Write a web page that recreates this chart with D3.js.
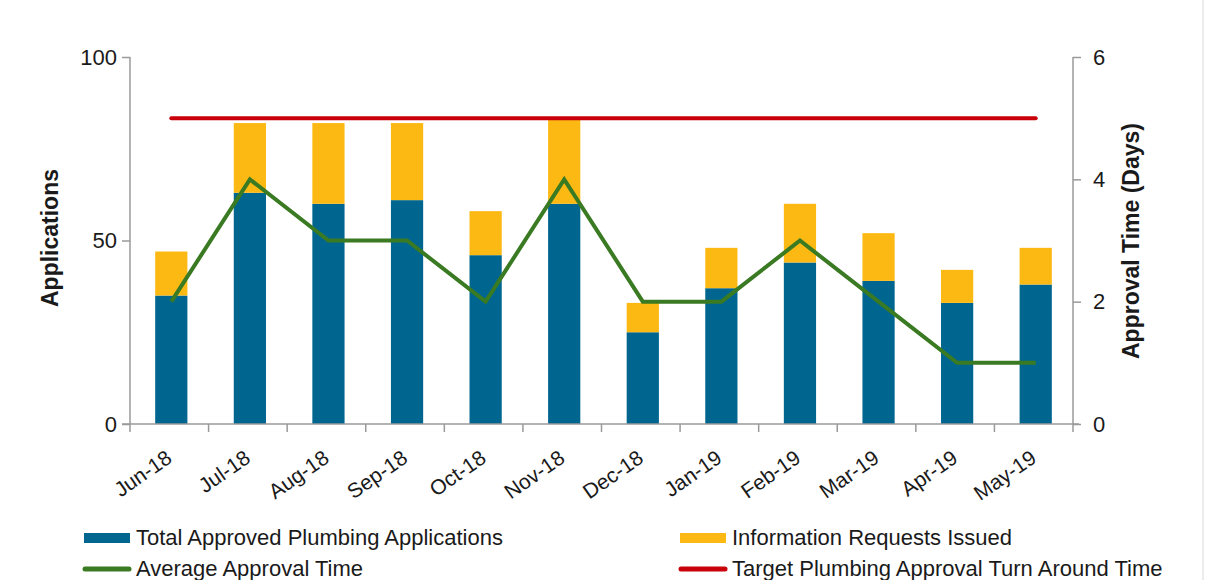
<!DOCTYPE html>
<html>
<head>
<meta charset="utf-8">
<script src="https://cdn.jsdelivr.net/npm/d3@7"></script>
<style>
  html, body { margin: 0; padding: 0; background: #fff; }
  svg { display: block; font-family: "Liberation Sans", Arial, sans-serif; }
</style>
</head>
<body>
<svg id="chart" width="1216" height="580"></svg>
<script>
const months = ["Jun-18","Jul-18","Aug-18","Sep-18","Oct-18","Nov-18","Dec-18","Jan-19","Feb-19","Mar-19","Apr-19","May-19"];
const approved = [35, 63, 60, 61, 46, 60, 25, 37, 44, 39, 33, 38];
const infoRequests = [12, 19, 22, 21, 12, 23, 8, 11, 16, 13, 9, 10];
const avgApprovalTime = [2, 4, 3, 3, 2, 4, 2, 2, 3, 2, 1, 1];
const targetTime = [5, 5, 5, 5, 5, 5, 5, 5, 5, 5, 5, 5];
const leftTicks = [0, 50, 100];
const rightTicks = [0, 2, 4, 6];

const C = { blue: "#006690", yellow: "#FDB913", green: "#3A7A22", red: "#C8000A", axis: "#9a9a9a", text: "#1a1a1a" };

const svg = d3.select("#chart");
const L = 130, R = 1073, T = 57, B = 424;

const x = d3.scaleBand().domain(months).range([L, R]).padding(0);
const yL = d3.scaleLinear().domain([0, 100]).range([B, T]);
const yR = d3.scaleLinear().domain([0, 6]).range([B, T]);
const barW = x.bandwidth() * 0.41;
const cx = m => x(m) + x.bandwidth() / 2 + 2;

// right border line
svg.append("line").attr("x1", 1203).attr("x2", 1203).attr("y1", 0).attr("y2", 580)
  .attr("stroke", "#e6e6e6").attr("stroke-width", 1.5);

// bars
const stackData = months.map((m, i) => ({ m, a: approved[i], r: infoRequests[i] }));
svg.append("g").selectAll("rect").data(stackData).join("rect")
  .attr("x", d => cx(d.m) - barW / 2).attr("width", barW)
  .attr("y", d => yL(d.a)).attr("height", d => yL(0) - yL(d.a))
  .attr("fill", C.blue);
svg.append("g").selectAll("rect").data(stackData).join("rect")
  .attr("x", d => cx(d.m) - barW / 2).attr("width", barW)
  .attr("y", d => yL(d.a + d.r)).attr("height", d => yL(d.a) - yL(d.a + d.r))
  .attr("fill", C.yellow);

// axes
const axL = svg.append("g").attr("transform", `translate(${L},0)`)
  .call(d3.axisLeft(yL).tickValues(leftTicks).tickSize(8).tickPadding(5).tickFormat(d3.format("d")));
const axR = svg.append("g").attr("transform", `translate(${R},0)`)
  .call(d3.axisRight(yR).tickValues(rightTicks).tickSize(8).tickPadding(12).tickFormat(d3.format("d")));
const axB = svg.append("g").attr("transform", `translate(0,${B})`)
  .call(d3.axisBottom(x).tickValues(months).tickSize(0).tickFormat(""));
[axL, axR, axB].forEach(a => {
  a.selectAll(".domain").attr("stroke", C.axis).attr("stroke-width", 1.5);
  a.selectAll(".tick line").attr("stroke", C.axis).attr("stroke-width", 1.5);
  a.selectAll("text").attr("font-size", 22).attr("fill", C.text)
    .attr("font-family", "Liberation Sans, Arial, sans-serif");
});
axL.select(".domain").attr("d", `M0,${T}V${B}`);
axR.select(".domain").attr("d", `M0,${T}V${B + 8}`);
axB.select(".domain").attr("d", `M${L - 8},0H${R + 6}`);
// category boundary ticks on x axis
const bounds = months.map(m => x(m) + x.bandwidth()).slice(0, -1);
svg.append("g").selectAll("line").data([L].concat(bounds)).join("line")
  .attr("x1", d => d).attr("x2", d => d).attr("y1", B).attr("y2", B + 8)
  .attr("stroke", C.axis).attr("stroke-width", 1.5);

// x labels rotated
svg.append("g").selectAll("text").data(months).join("text")
  .attr("transform", m => `translate(${cx(m) + 2},${B + 37}) rotate(-35)`)
  .attr("text-anchor", "end").attr("font-size", 21).attr("fill", C.text)
  .text(m => m);

// target line
const lineR = d3.line().x((d, i) => cx(months[i])).y(d => yR(d));
svg.append("path").datum(targetTime).attr("d", lineR)
  .attr("fill", "none").attr("stroke", C.red).attr("stroke-width", 4).attr("stroke-linecap", "round");
// avg line
svg.append("path").datum(avgApprovalTime).attr("d", lineR)
  .attr("fill", "none").attr("stroke", C.green).attr("stroke-width", 4).attr("stroke-linejoin", "miter");

// axis titles
svg.append("text").attr("transform", `translate(58,238) rotate(-90)`)
  .attr("text-anchor", "middle").attr("font-size", 23).attr("font-weight", "bold")
  .attr("fill", C.text).text("Applications");
svg.append("text").attr("transform", `translate(1139,241) rotate(-90)`)
  .attr("text-anchor", "middle").attr("font-size", 23).attr("font-weight", "bold")
  .attr("fill", C.text).text("Approval Time (Days)");

// legend
const legend = [
  { label: "Total Approved Plumbing Applications", color: C.blue, type: "rect", x: 84, y: 538 },
  { label: "Information Requests Issued", color: C.yellow, type: "rect", x: 680, y: 538 },
  { label: "Average Approval Time", color: C.green, type: "line", x: 84, y: 569 },
  { label: "Target Plumbing Approval Turn Around Time", color: C.red, type: "line", x: 680, y: 569 }
];
const lg = svg.append("g").selectAll("g").data(legend).join("g")
  .attr("transform", d => `translate(${d.x},${d.y})`);
lg.each(function(d) {
  const g = d3.select(this);
  if (d.type === "rect") g.append("rect").attr("x", 0).attr("y", -5).attr("width", 46).attr("height", 10).attr("fill", d.color);
  else g.append("line").attr("x1", 1).attr("x2", 45).attr("y1", 0).attr("y2", 0).attr("stroke", d.color).attr("stroke-width", 5).attr("stroke-linecap", "round");
  g.append("text").attr("x", 52).attr("y", 7).attr("font-size", 22).attr("fill", C.text).text(d.label);
});
</script>
</body>
</html>
